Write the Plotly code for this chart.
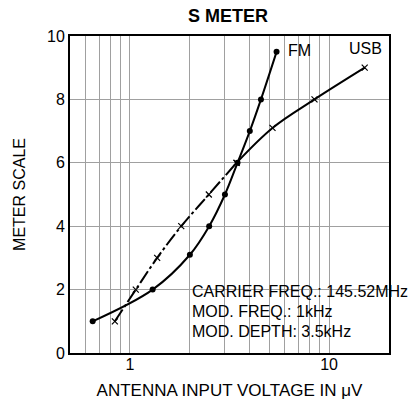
import math
import plotly.graph_objects as go

fm_x = [0.65, 1.30, 2.0, 2.5, 3.0, 3.47, 4.0, 4.55, 5.45]
fm_y = [1, 2, 3.1, 4, 5, 6, 7, 8, 9.5]

usb_x = [0.84, 1.07, 1.37, 1.81, 2.49, 3.43, 5.2, 8.45, 15.1]
usb_y = [1, 2, 3, 4, 5, 6, 7.1, 8, 9]

x_ticks = [1, 10]
x_grid = [0.6, 0.7, 0.8, 0.9, 1, 2, 3, 4, 5, 6, 7, 8, 9, 10]
y_ticks = [0, 2, 4, 6, 8, 10]

notes = ["CARRIER FREQ.: 145.52MHz", "MOD. FREQ.: 1kHz", "MOD. DEPTH: 3.5kHz"]

FONT = "Liberation Sans"

fig = go.Figure()
fig.add_trace(go.Scatter(x=fm_x, y=fm_y, mode="lines+markers",
                         line=dict(color="black", width=2, shape="spline"),
                         marker=dict(symbol="circle", size=6, color="black"),
                         showlegend=False, hoverinfo="skip"))
# USB lower part dashed, upper part solid
fig.add_trace(go.Scatter(x=usb_x[:6], y=usb_y[:6], mode="lines+markers",
                         line=dict(color="black", width=2, shape="spline", dash="14px,3px,3px,3px"),
                         marker=dict(symbol="x-thin", size=6, color="black",
                                     line=dict(width=1.2, color="black")),
                         showlegend=False, hoverinfo="skip"))
fig.add_trace(go.Scatter(x=usb_x[5:], y=usb_y[5:], mode="lines+markers",
                         line=dict(color="black", width=2, shape="spline"),
                         marker=dict(symbol="x-thin", size=6, color="black",
                                     line=dict(width=1.2, color="black")),
                         showlegend=False, hoverinfo="skip"))

fig.add_annotation(x=math.log10(fm_x[-1]), y=fm_y[-1], text="FM", showarrow=False,
                   xanchor="left", xshift=9, yshift=1, font=dict(size=16, family=FONT, color="black"))
fig.add_annotation(x=math.log10(usb_x[-1]), y=usb_y[-1], text="USB", showarrow=False,
                   xanchor="center", xshift=1, yshift=19, font=dict(size=16, family=FONT, color="black"))

for i, t in enumerate(notes):
    fig.add_annotation(xref="paper", yref="y", x=0.375, y=1.93 - i * 0.63, text=t,
                       showarrow=False, xanchor="left", yanchor="middle",
                       font=dict(size=16, family=FONT, color="black"))

fig.update_layout(
    width=420, height=411,
    margin=dict(l=70, r=31, t=36, b=58, autoexpand=False),
    paper_bgcolor="white", plot_bgcolor="white",
    title=dict(text="<b>S METER</b>", x=0.543, xanchor="center", y=0.963, yanchor="middle",
               font=dict(size=18, family=FONT, color="black")),
    font=dict(family=FONT, color="black"),
)
fig.update_xaxes(type="log", range=[-0.301, 1.301], automargin=False,
                 tickmode="array", tickvals=x_ticks, ticktext=[str(v) for v in x_ticks],
                 tickfont=dict(size=16), ticks="", ticklabelstandoff=-4,
                 showgrid=False,
                 minor=dict(tickmode="array", tickvals=x_grid, showgrid=True,
                            gridcolor="#a0a0a0", gridwidth=1, ticks=""),
                 showline=True, linecolor="black", linewidth=2, mirror=True,
                 title=dict(text="ANTENNA INPUT VOLTAGE IN μV", font=dict(size=17), standoff=12),
                 zeroline=False)
fig.update_yaxes(range=[0, 10], automargin=False, tickmode="array", tickvals=y_ticks,
                 tickfont=dict(size=16), ticks="",
                 showgrid=True, gridcolor="#a0a0a0", gridwidth=1,
                 showline=True, linecolor="black", linewidth=2, mirror=True,
                 title=dict(text="METER SCALE", font=dict(size=16), standoff=17),
                 zeroline=False)

fig.write_html("out.html", config={"displayModeBar": False},
               post_script="document.body.style.margin='0';document.body.style.padding='0';")
